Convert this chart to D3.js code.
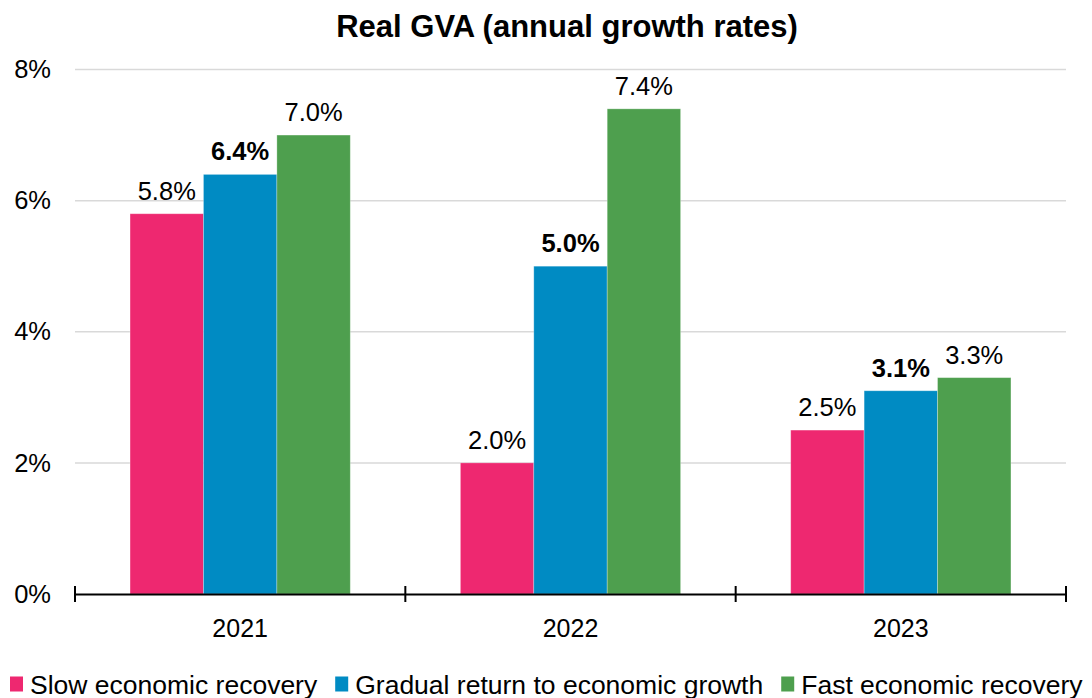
<!DOCTYPE html>
<html>
<head>
<meta charset="utf-8">
<script src="https://cdn.jsdelivr.net/npm/d3@7"></script>
<style>
  html, body { margin: 0; padding: 0; background: #fff; }
  svg { display: block; font-family: "Liberation Sans", Arial, sans-serif; }
</style>
</head>
<body>
<svg id="chart" width="1092" height="698"></svg>
<script>
// Real GVA growth scenarios, % per year
const years = ["2021", "2022", "2023"];
const seriesNames = ["Slow economic recovery", "Gradual return to economic growth", "Fast economic recovery"];
const slowRecovery = [5.8, 2.0, 2.5];
const gradualReturn = [6.4, 5.0, 3.1];
const fastRecovery = [7.0, 7.4, 3.3];
const yTicks = [0, 2, 4, 6, 8];
const seriesColors = ["#ee2870", "#008bc3", "#4e9f4e"];
const boldSeries = [false, true, false];

const allSeries = [slowRecovery, gradualReturn, fastRecovery];
const rows = years.map((yr, i) => ({
  year: yr,
  values: allSeries.map((s, j) => ({ key: seriesNames[j], idx: j, value: s[i] }))
}));

const svg = d3.select("#chart");
const plotLeft = 75, plotRight = 1066, plotTop = 69.5, plotBottom = 594;
const FONT = "'Liberation Sans', Arial, sans-serif";

const x0 = d3.scaleBand().domain(years).range([plotLeft, plotRight]).paddingInner(0).paddingOuter(0);
const x1 = d3.scaleBand().domain(seriesNames).range([0, x0.bandwidth()]).paddingInner(0).paddingOuter(0.75);
const y = d3.scaleLinear().domain([0, 8]).range([plotBottom, plotTop]);

// title
svg.append("text")
  .attr("x", 567).attr("y", 37)
  .attr("text-anchor", "middle")
  .attr("font-size", 31).attr("font-weight", "bold")
  .attr("fill", "#000")
  .text("Real GVA (annual growth rates)");

// horizontal gridlines
svg.append("g")
  .selectAll("line")
  .data(yTicks.filter(t => t > 0))
  .join("line")
  .attr("x1", plotLeft).attr("x2", plotRight)
  .attr("y1", d => y(d)).attr("y2", d => y(d))
  .attr("stroke", "#d9d9d9").attr("stroke-width", 1.5);

// y tick labels
const yAxis = d3.axisLeft(y).tickValues(yTicks).tickFormat(d => d + "%").tickSize(0).tickPadding(24);
svg.append("g")
  .attr("transform", `translate(${plotLeft},0)`)
  .call(yAxis)
  .call(g => g.select(".domain").remove())
  .call(g => g.selectAll("text").attr("font-size", 25.5).attr("fill", "#000")
    .attr("font-family", FONT));

// bars
const groups = svg.append("g")
  .selectAll("g")
  .data(rows)
  .join("g")
  .attr("transform", d => `translate(${x0(d.year)},0)`);

groups.selectAll("rect")
  .data(d => d.values)
  .join("rect")
  .attr("x", d => x1(d.key))
  .attr("y", d => y(d.value))
  .attr("width", x1.bandwidth())
  .attr("height", d => y(0) - y(d.value))
  .attr("fill", d => seriesColors[d.idx])
  .attr("stroke", "rgba(255,255,255,0.35)")
  .attr("stroke-width", 0.8);

// value labels
groups.selectAll("text.val")
  .data(d => d.values)
  .join("text")
  .attr("class", "val")
  .attr("x", d => x1(d.key) + x1.bandwidth() / 2)
  .attr("y", d => y(d.value) - 14)
  .attr("text-anchor", "middle")
  .attr("font-size", 25.5)
  .attr("font-weight", d => boldSeries[d.idx] ? "bold" : "normal")
  .attr("fill", "#000")
  .text(d => d.value.toFixed(1) + "%");

// category axis along zero, with ticks crossing the line at category boundaries
const xAxis = d3.axisBottom(x0).tickSize(0).tickPadding(25);
const xg = svg.append("g")
  .attr("transform", `translate(0,${y(0)})`)
  .call(xAxis);
xg.select(".domain").attr("stroke", "#000").attr("stroke-width", 2.2);
xg.selectAll("text").attr("font-size", 25).attr("fill", "#000")
  .attr("font-family", FONT);
const boundaries = years.map(yr => x0(yr)).concat([x0(years[years.length - 1]) + x0.bandwidth()]);
xg.append("g")
  .selectAll("line")
  .data(boundaries)
  .join("line")
  .attr("x1", d => d).attr("x2", d => d)
  .attr("y1", -8).attr("y2", 8)
  .attr("stroke", "#000").attr("stroke-width", 2);

// legend
const legend = svg.append("g").attr("transform", "translate(10,693.5)");
let lx = 0;
seriesNames.forEach((name, i) => {
  const item = legend.append("g").attr("transform", `translate(${lx},0)`);
  item.append("rect").attr("x", 0).attr("y", -17).attr("width", 13).attr("height", 15)
    .attr("fill", seriesColors[i]);
  const t = item.append("text").attr("x", 20).attr("y", 0)
    .attr("font-size", 26.5).attr("fill", "#000").text(name);
  lx += 20 + t.node().getComputedTextLength() + 18;
});
</script>
</body>
</html>
